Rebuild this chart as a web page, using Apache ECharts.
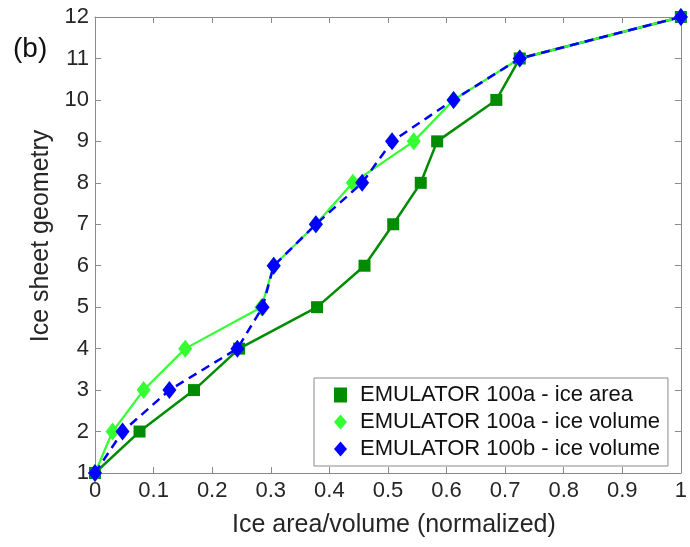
<!DOCTYPE html>
<html>
<head>
<meta charset="utf-8">
<script src="https://cdn.jsdelivr.net/npm/echarts@6/dist/echarts.min.js"></script>
<style>
  html, body { margin: 0; padding: 0; background: #fff; }
  #chart { width: 690px; height: 547px; }
</style>
</head>
<body>
<div id="chart"></div>
<script>
// Ice sheet geometry index (y) against normalized ice area / volume (x)
const geometry = [1, 2, 3, 4, 5, 6, 7, 8, 9, 10, 11, 12];
const area100a   = [0, 0.076, 0.169, 0.246, 0.379, 0.460, 0.509, 0.556, 0.584, 0.685, 0.725, 1];
const volume100a = [0, 0.030, 0.083, 0.154, 0.284, 0.305, 0.377, 0.440, 0.544, 0.612, 0.725, 1];
const volume100b = [0, 0.047, 0.127, 0.243, 0.286, 0.305, 0.377, 0.456, 0.507, 0.612, 0.725, 1];
const seriesNames = [
  'EMULATOR 100a - ice area',
  'EMULATOR 100a - ice volume',
  'EMULATOR 100b - ice volume'
];

const pairs = (xs) => xs.map((x, i) => [x, geometry[i]]);

const FONT = 'Liberation Sans, Arial, Helvetica, sans-serif';
const TEXT = '#262626';
const AXIS = '#8a8a8a';

const chart = echarts.init(document.getElementById('chart'), null, { renderer: 'canvas' });

const baseX = {
  type: 'value', min: 0, max: 1, interval: 0.1,
  axisLine: { show: true, onZero: false, lineStyle: { color: AXIS, width: 1 } },
  axisTick: { show: true, inside: true, length: 6, lineStyle: { color: AXIS } },
  splitLine: { show: false }
};
const baseY = {
  type: 'value', min: 1, max: 12, interval: 1,
  axisLine: { show: true, onZero: false, lineStyle: { color: AXIS, width: 1 } },
  axisTick: { show: true, inside: true, length: 6, lineStyle: { color: AXIS } },
  splitLine: { show: false }
};

chart.setOption({
  animation: false,
  backgroundColor: '#ffffff',
  grid: { left: 95, right: 8, top: 17, bottom: 74, containLabel: false },
  title: {
    text: '(b)', left: 8, top: 30,
    textStyle: { fontFamily: FONT, fontSize: 28, fontWeight: 'normal', color: '#111' }
  },
  legend: {
    orient: 'vertical',
    left: 314, top: 378,
    width: 352,
    padding: [6, 8, 6, 20],
    itemGap: 5,
    itemWidth: 13, itemHeight: 15,
    borderColor: '#8a8a8a', borderWidth: 1,
    backgroundColor: '#ffffff',
    textStyle: { fontFamily: FONT, fontSize: 22, color: '#111', padding: [0, 0, 0, 8] },
    data: [
      { name: seriesNames[0], icon: 'rect', itemStyle: { color: '#008c00' } },
      { name: seriesNames[1], icon: 'diamond', itemStyle: { color: '#33ff33' } },
      { name: seriesNames[2], icon: 'diamond', itemStyle: { color: '#0000ff' } }
    ]
  },
  xAxis: [
    Object.assign({}, baseX, {
      position: 'bottom',
      name: 'Ice area/volume (normalized)',
      nameLocation: 'middle', nameGap: 40,
      nameTextStyle: { fontFamily: FONT, fontSize: 25, color: TEXT, padding: [0, 0, 0, 12] },
      axisLabel: {
        fontFamily: FONT, fontSize: 22, color: TEXT, margin: 7,
        formatter: (v) => String(Math.round(v * 10) / 10)
      }
    }),
    Object.assign({}, baseX, { position: 'top', axisLabel: { show: false } })
  ],
  yAxis: [
    Object.assign({}, baseY, {
      position: 'left',
      name: 'Ice sheet geometry',
      nameLocation: 'middle', nameGap: 40, nameRotate: 90,
      nameTextStyle: { fontFamily: FONT, fontSize: 25, color: TEXT, padding: [0, 0, 0, 18] },
      axisLabel: { fontFamily: FONT, fontSize: 22, color: TEXT, margin: 6 }
    }),
    Object.assign({}, baseY, { position: 'right', axisLabel: { show: false } })
  ],
  series: [
    {
      name: seriesNames[0], type: 'line', data: pairs(area100a),
      symbol: 'rect', symbolSize: 12, showAllSymbol: true,
      lineStyle: { color: '#008c00', width: 2.5 },
      itemStyle: { color: '#008c00' },
      z: 2
    },
    {
      name: seriesNames[1], type: 'line', data: pairs(volume100a),
      symbol: 'diamond', symbolSize: [14, 18], showAllSymbol: true,
      lineStyle: { color: '#33ff33', width: 2.2 },
      itemStyle: { color: '#33ff33' },
      z: 3
    },
    {
      name: seriesNames[2], type: 'line', data: pairs(volume100b),
      symbol: 'diamond', symbolSize: [14, 18], showAllSymbol: true,
      lineStyle: { color: '#0000ff', width: 2.5, type: [9, 6] },
      itemStyle: { color: '#0000ff' },
      z: 4
    }
  ]
});
</script>
</body>
</html>
